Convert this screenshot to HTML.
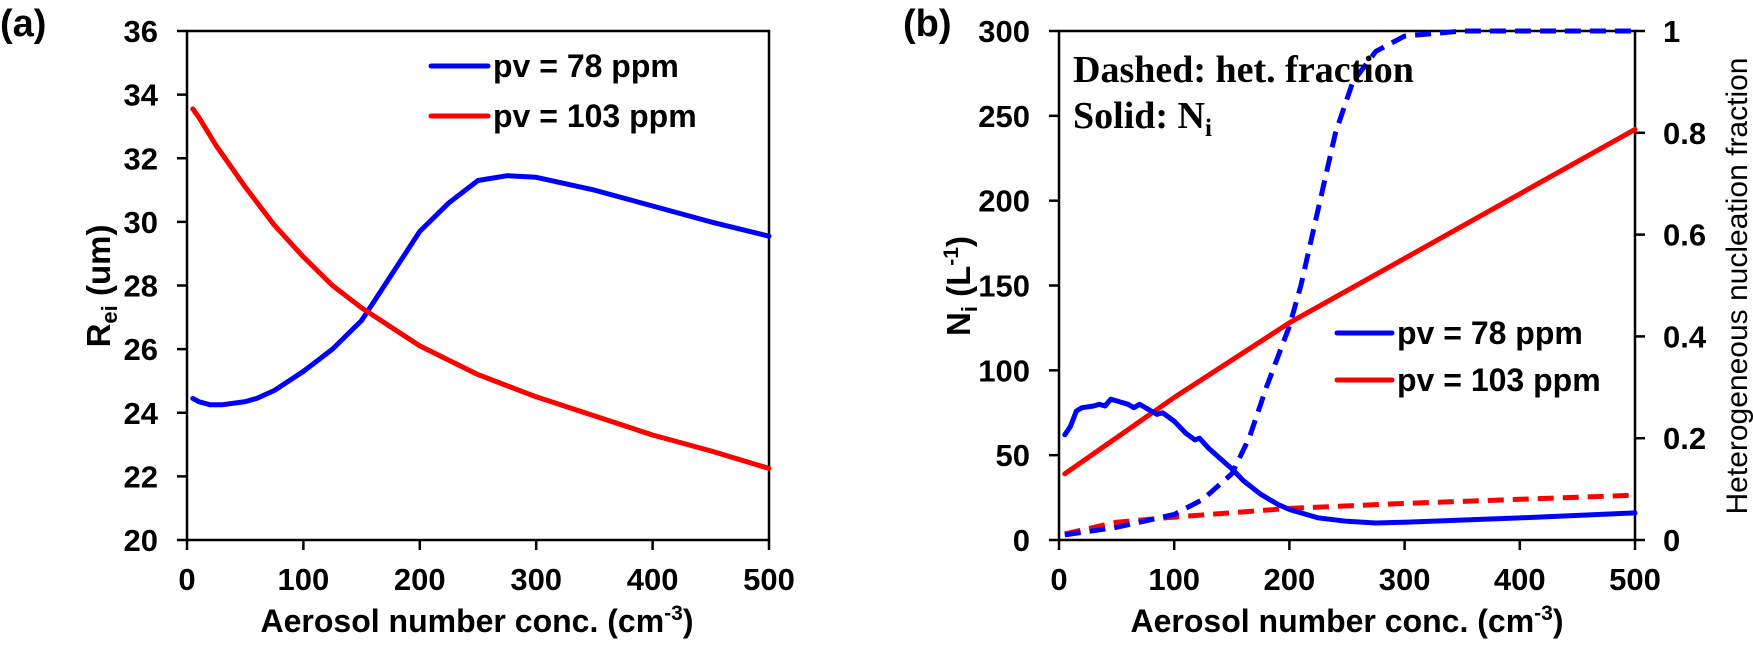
<!DOCTYPE html>
<html><head><meta charset="utf-8"><style>
body{margin:0;background:#fff;}
svg{display:block;font-family:"Liberation Sans",Arial,sans-serif;font-weight:bold;}
</style></head><body>
<div style="position:relative;width:1753px;height:649px;">
<svg id="fig" width="1753" height="649" viewBox="0 0 1753 649" style="position:absolute;left:0;top:0"></svg>
<script>
// ---- Panel (a) data ----
const aX78 = [5,10,20,30,50,60,75,100,125,150,175,200,225,250,275,300,350,400,450,500];
const aY78 = [24.45,24.35,24.25,24.25,24.35,24.45,24.7,25.3,26.0,26.9,28.3,29.7,30.6,31.3,31.45,31.4,31.0,30.5,30.0,29.55];
const aX103 = [5,10,25,50,75,100,125,150,175,200,250,300,350,400,450,500];
const aY103 = [33.55,33.3,32.4,31.1,29.9,28.9,28.0,27.3,26.7,26.1,25.2,24.5,23.9,23.3,22.8,22.25];
const aXTicks = [0,100,200,300,400,500];
const aYTicks = [20,22,24,26,28,30,32,34,36];
// ---- Panel (b) data ----
const bX78 = [5,10,15,20,30,35,40,45,50,60,65,70,75,85,90,100,110,118,122,130,140,150,160,175,190,200,225,250,275,300,400,500];
const bN78 = [62,67,76,78,79,80,79,83,82,80,78,80,78,74,75,70,63,59,60,54,48,42,35,27,21,18,13,11,10,10.5,13,16];
const bX103 = [5,100,200,300,400,500];
const bN103 = [39,84,128,166,204,242];
const bFX78 = [5,50,100,125,150,165,180,200,210,225,240,255,275,300,350,500];
const bF78 = [0.01,0.025,0.05,0.08,0.13,0.2,0.3,0.42,0.5,0.65,0.8,0.9,0.96,0.99,1.0,1.0];
const bFX103 = [5,50,100,200,300,400,500];
const bF103 = [0.012,0.035,0.045,0.062,0.072,0.08,0.088];
const bXTicks = [0,100,200,300,400,500];
const bYTicks = [0,50,100,150,200,250,300];
const bRTicks = [0,0.2,0.4,0.6,0.8,1];

const NS="http://www.w3.org/2000/svg";
const svg=document.getElementById('fig');
function el(tag,attrs,parent){const e=document.createElementNS(NS,tag);for(const k in attrs)e.setAttribute(k,attrs[k]);(parent||svg).appendChild(e);return e;}
function txt(s,attrs,parent){const t=el('text',attrs,parent);t.textContent=s;return t;}

const TOP=31,BOT=540;
const aL=187,aR=769;
const ax=v=>aL+v/500*(aR-aL);
const ay=v=>BOT-(v-20)/16*(BOT-TOP);
const bL=1059,bR=1635;
const bx=v=>bL+v/500*(bR-bL);
const by=v=>BOT-v/300*(BOT-TOP);
const br=v=>BOT-v*(BOT-TOP);
const FS=31;

function frame(L,R,name){
  const r=el('rect',{x:L,y:TOP,width:R-L,height:BOT-TOP,fill:'none',stroke:'#000','stroke-width':2.5});
  
  
}
function path(xs,ys,fx,fy,color,dash,name){
  let d='';xs.forEach((x,i)=>{d+=(i?'L':'M')+fx(x).toFixed(1)+','+fy(ys[i]).toFixed(1);});
  const p=el('path',{d:d,fill:'none',stroke:color,'stroke-width':5,'stroke-linejoin':'round','stroke-linecap':dash?'butt':'round'});
  if(dash)p.setAttribute('stroke-dasharray','16,9');
  
  
}

frame(aL,aR,'panel-a');
aXTicks.forEach(v=>{
  el('line',{x1:ax(v),x2:ax(v),y1:BOT,y2:BOT+10,stroke:'#000','stroke-width':2.5});
  const t=txt(String(v),{x:ax(v),y:590,'text-anchor':'middle','font-size':FS});
  
  
});
aYTicks.forEach(v=>{
  el('line',{x1:aL-10,x2:aL,y1:ay(v),y2:ay(v),stroke:'#000','stroke-width':2.5});
  const t=txt(String(v),{x:aL-29,y:ay(v)+11,'text-anchor':'end','font-size':FS});
  
  
});
path(aX78,aY78,ax,ay,'#0000ff',false,'a-line-pv78');
path(aX103,aY103,ax,ay,'#ff0000',false,'a-line-pv103');

frame(bL,bR,'panel-b');
bXTicks.forEach(v=>{
  el('line',{x1:bx(v),x2:bx(v),y1:BOT,y2:BOT+10,stroke:'#000','stroke-width':2.5});
  const t=txt(String(v),{x:bx(v),y:590,'text-anchor':'middle','font-size':FS});
  
  
});
bYTicks.forEach(v=>{
  el('line',{x1:bL-10,x2:bL,y1:by(v),y2:by(v),stroke:'#000','stroke-width':2.5});
  const t=txt(String(v),{x:bL-29,y:by(v)+11,'text-anchor':'end','font-size':FS});
  
  
});
bRTicks.forEach(v=>{
  el('line',{x1:bR,x2:bR+10,y1:br(v),y2:br(v),stroke:'#000','stroke-width':2.5});
  const t=txt(String(v),{x:bR+28,y:br(v)+11,'text-anchor':'start','font-size':FS});
  
  
});
path(bFX103,bF103,bx,br,'#ff0000',true,'b-fraction-pv103');
path(bFX78,bF78,bx,br,'#0000ff',true,'b-fraction-pv78');
path(bX103,bN103,bx,by,'#ff0000',false,'b-ni-pv103');
path(bX78,bN78,bx,by,'#0000ff',false,'b-ni-pv78');
</script>
<svg width="1753" height="649" style="position:absolute;left:0;top:0;">
  <text x="0" y="36" font-size="38">(a)</text>
  <text x="903" y="36" font-size="38">(b)</text>
  <g>
    <line x1="431" y1="66" x2="488" y2="66" stroke="#0000ff" stroke-width="5" stroke-linecap="round"/>
    <text x="493" y="77" font-size="32">pv = 78 ppm</text>
    <line x1="431" y1="116" x2="488" y2="116" stroke="#ff0000" stroke-width="5" stroke-linecap="round"/>
    <text x="493" y="127" font-size="32">pv = 103 ppm</text>
  </g>
  <g>
    <line x1="1337" y1="333" x2="1392" y2="333" stroke="#0000ff" stroke-width="5" stroke-linecap="round"/>
    <text x="1397" y="344" font-size="32">pv = 78 ppm</text>
    <line x1="1337" y1="380" x2="1392" y2="380" stroke="#ff0000" stroke-width="5" stroke-linecap="round"/>
    <text x="1397" y="391" font-size="32">pv = 103 ppm</text>
  </g>
  <g font-family="'Liberation Serif','Times New Roman',serif" font-size="38">
    <text x="1073" y="82">Dashed: het. fraction</text>
    <text x="1073" y="128">Solid: N<tspan font-size="25" dy="8">i</tspan></text>
  </g>
  <text x="477" y="632" text-anchor="middle" font-size="32">Aerosol number conc. (cm<tspan font-size="21" dy="-12">-3</tspan><tspan dy="12">)</tspan></text>
  <text x="1347" y="632" text-anchor="middle" font-size="32">Aerosol number conc. (cm<tspan font-size="21" dy="-12">-3</tspan><tspan dy="12">)</tspan></text>
  <text transform="translate(110,286) rotate(-90)" text-anchor="middle" font-size="33">R<tspan font-size="22" dy="7">ei</tspan><tspan dy="-7"> (um)</tspan></text>
  <text transform="translate(970,286) rotate(-90)" text-anchor="middle" font-size="33">N<tspan font-size="22" dy="7">i</tspan><tspan dy="-7"> (L</tspan><tspan font-size="21" dy="-12">-1</tspan><tspan dy="12">)</tspan></text>
  <text transform="translate(1747,286) rotate(-90)" text-anchor="middle" font-size="30" style="font-weight:normal">Heterogeneous nucleation fraction</text>
</svg>
</div>
</body></html>
